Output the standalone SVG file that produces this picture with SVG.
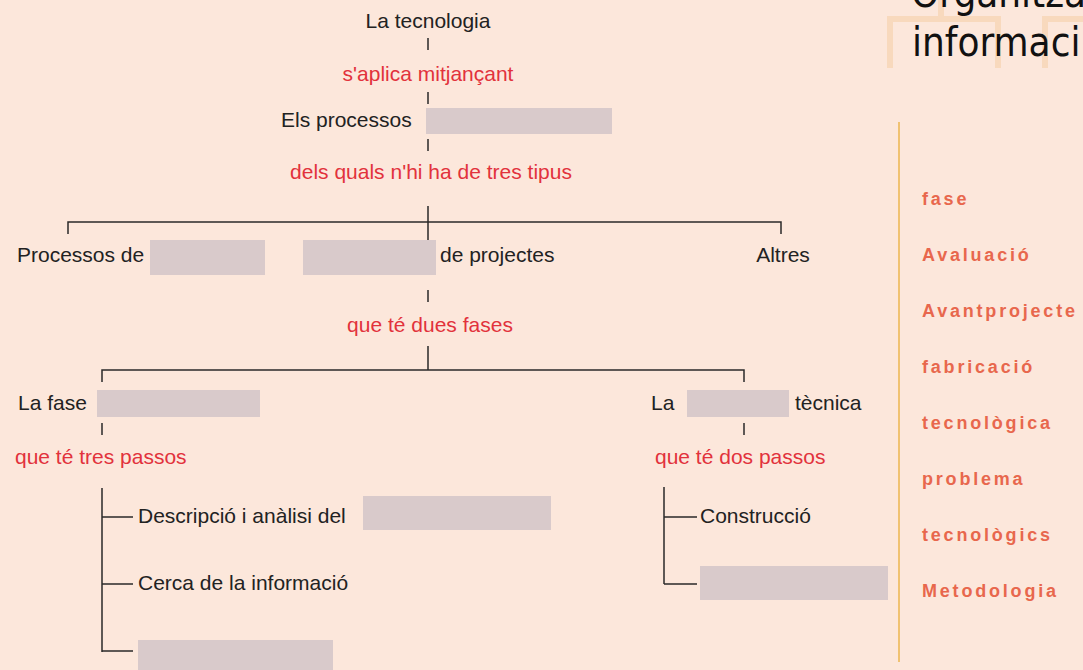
<svg xmlns="http://www.w3.org/2000/svg" width="1083" height="670" viewBox="0 0 1083 670">
<style>
.t{font-family:"Liberation Sans",Arial,sans-serif;font-size:21px;fill:#222}
.r{font-family:"Liberation Sans",Arial,sans-serif;font-size:21px;fill:#e2323c}
.m{text-anchor:middle}
.b{fill:#d9cacb}
.w{font-family:"Liberation Sans",Arial,sans-serif;font-size:18px;font-weight:bold;fill:#e8674d;letter-spacing:2.8px}
.c{fill:none;stroke:#2a2a2a;stroke-width:1.5}
.title{font-family:"DejaVu Sans Condensed","DejaVu Sans",sans-serif;font-size:40px;fill:#111}
</style>
<rect width="1083" height="670" fill="#fce7db"/>
<g id="title">
<path d="M890,68V19H998V68M941,0V19M1045,68V19H1083" fill="none" stroke="#f8d9bd" stroke-width="6"/>
<text class="title" x="911" y="7">Organitza</text>
<text class="title" x="912" y="56">informaci</text>
</g>
<g id="connectors">
<path class="c" d="M428,38V50M428,92V104M428,139V151"/>
<path class="c" d="M428,206V240M68,234V222H781V234"/>
<path class="c" d="M428,290V302M428,346V370M102,382V370H744V382"/>
<path class="c" d="M102,423V435M744,423V435"/>
<path class="c" d="M102,488V652M102,517H133M102,584H133M102,651H133"/>
<path class="c" d="M664,487V584M664,517H697M664,584H697"/>
</g>
<g id="n-tecnologia"><text class="t m" x="428" y="28">La tecnologia</text></g>
<g id="l-aplica"><text class="r m" x="428" y="81">s'aplica mitjançant</text></g>
<g id="n-processos"><text class="t" x="281" y="127">Els processos</text><rect class="b" x="426" y="108" width="186" height="26"/></g>
<g id="l-tipus"><text class="r m" x="431" y="179">dels quals n'hi ha de tres tipus</text></g>
<g id="n-proc1"><text class="t" x="17" y="262">Processos de</text><rect class="b" x="150" y="240" width="115" height="35"/></g>
<g id="n-proc2"><rect class="b" x="303" y="240" width="133" height="35"/><text class="t" x="440" y="262">de projectes</text></g>
<g id="n-altres"><text class="t m" x="783" y="262">Altres</text></g>
<g id="l-fases"><text class="r m" x="430" y="332">que té dues fases</text></g>
<g id="n-fase"><text class="t" x="18" y="410">La fase</text><rect class="b" x="97" y="390" width="163" height="27"/></g>
<g id="n-tecnica"><text class="t" x="651" y="410">La</text><rect class="b" x="687" y="390" width="102" height="27"/><text class="t" x="795" y="410">tècnica</text></g>
<g id="l-tres"><text class="r" x="15" y="464">que té tres passos</text></g>
<g id="l-dos"><text class="r" x="655" y="464">que té dos passos</text></g>
<g id="n-descripcio"><text class="t" x="138" y="523">Descripció i anàlisi del</text><rect class="b" x="363" y="496" width="188" height="34"/></g>
<g id="n-cerca"><text class="t" x="138" y="590">Cerca de la informació</text></g>
<g id="n-pas3"><rect class="b" x="138" y="640" width="195" height="30"/></g>
<g id="n-construccio"><text class="t" x="700" y="523">Construcció</text></g>
<g id="n-pas2"><rect class="b" x="700" y="566" width="188" height="34"/></g>
<g id="wordlist">
<line x1="899" y1="122" x2="899" y2="662" stroke="#f0c272" stroke-width="2"/>
<text class="w" x="922" y="205">fase</text>
<text class="w" x="922" y="261">Avaluació</text>
<text class="w" x="922" y="317">Avantprojecte</text>
<text class="w" x="922" y="373">fabricació</text>
<text class="w" x="922" y="429">tecnològica</text>
<text class="w" x="922" y="485">problema</text>
<text class="w" x="922" y="541">tecnològics</text>
<text class="w" x="922" y="597">Metodologia</text>
</g>
</svg>
